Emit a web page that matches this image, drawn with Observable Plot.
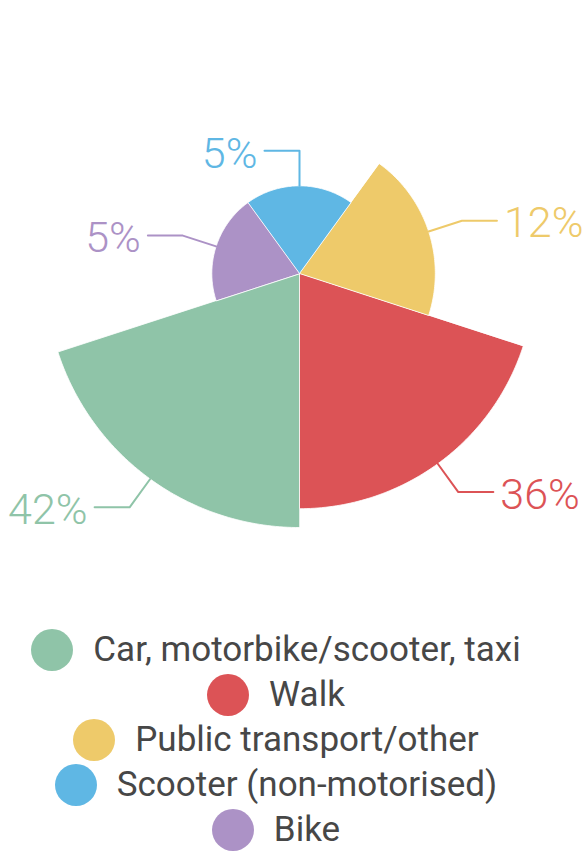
<!DOCTYPE html>
<html>
<head>
<meta charset="utf-8">
<script src="https://cdn.jsdelivr.net/npm/d3@7"></script>
<script src="https://cdn.jsdelivr.net/npm/@observablehq/plot@0.6"></script>
<style>
  html, body { margin: 0; padding: 0; background: #fff; }
  body { width: 584px; font-family: Roboto, "Noto Sans", sans-serif; }
  #legend { display: flex; flex-direction: column; align-items: center; margin-top: 17px; padding-right: 32px; }
  .item { display: flex; align-items: center; height: 45px; }
  .sw { width: 42px; height: 42px; border-radius: 50%; margin-right: 20px; flex: none; }
  .lab { font-size: 35px; color: #474747; white-space: nowrap; line-height: 36px; }
</style>
</head>
<body>
<div id="chart"></div>
<div id="legend"></div>
<script>
// ---- data ----
const categories = ["Car, motorbike/scooter, taxi", "Walk", "Public transport/other", "Scooter (non-motorised)", "Bike"];
const values = [42, 36, 12, 5, 5];
const labels = ["42%", "36%", "12%", "5%", "5%"];
const colors = ["#8fc4a8", "#dc5356", "#eeca6a", "#5fb7e4", "#ac92c6"];

// ---- layout config ----
const W = 584, H = 610;
const cx = 299, cy = 273;          // pie centre in pixels
const k = 39.2;                    // pixels per sqrt(value) unit
const startDeg = 252;              // first slice starts here (clockwise from top), slices go counter-clockwise
const step = 360 / values.length;  // equal angles (polar area)
const lineLen1 = 35 / k, lineLen2 = 35 / k, gap = 7 / k;

const rad = d => d * Math.PI / 180;
const polar = (r, deg) => [r * Math.sin(rad(deg)), r * Math.cos(rad(deg))];

const slices = [];
const leaders = [];
const texts = [];
categories.forEach((c, i) => {
  const r = Math.sqrt(values[i]);
  const a1 = startDeg - i * step, a2 = a1 - step;
  const [x0, y0] = polar(0, 0);
  slices.push({cat: c, x: x0, y: y0});
  const n = 80;
  for (let j = 0; j <= n; j++) {
    const [x, y] = polar(r, a1 + (a2 - a1) * j / n);
    slices.push({cat: c, x, y});
  }
  const mid = (a1 + a2) / 2;
  const [ex, ey] = polar(r, mid);
  const [bx, by] = polar(r + lineLen1, mid);
  const right = Math.sin(rad(mid)) > 0.01 ? 1 : -1;
  const hx = bx + right * lineLen2;
  leaders.push({cat: c, x: ex, y: ey}, {cat: c, x: bx, y: by}, {cat: c, x: hx, y: by});
  texts.push({cat: c, x: hx + right * gap, y: by, label: labels[i], anchor: right > 0 ? "start" : "end"});
});

const chart = Plot.plot({
  width: W, height: H,
  margin: 0,
  x: {domain: [-cx / k, (W - cx) / k], range: [0, W], axis: null},
  y: {domain: [-(H - cy) / k, cy / k], range: [H, 0], axis: null},
  color: {domain: categories, range: colors},
  style: {fontFamily: "Roboto, 'Noto Sans', sans-serif", background: "#fff"},
  marks: [
    Plot.line(slices, {x: "x", y: "y", z: "cat", fill: "cat", stroke: "#fff", strokeWidth: 0.8, curve: "linear-closed"}),
    Plot.line(leaders, {x: "x", y: "y", z: "cat", stroke: "cat", strokeWidth: 2}),
    Plot.text(texts.filter(d => d.anchor === "start"), {x: "x", y: "y", text: "label", fill: "cat", textAnchor: "start", fontSize: 43, fontWeight: 300, dy: 3}),
    Plot.text(texts.filter(d => d.anchor === "end"), {x: "x", y: "y", text: "label", fill: "cat", textAnchor: "end", fontSize: 43, fontWeight: 300, dy: 3})
  ]
});
document.getElementById("chart").appendChild(chart);

const legend = document.getElementById("legend");
categories.forEach((c, i) => {
  const item = document.createElement("div");
  item.className = "item";
  const sw = document.createElement("span");
  sw.className = "sw";
  sw.style.background = colors[i];
  const lab = document.createElement("span");
  lab.className = "lab";
  lab.textContent = c;
  item.appendChild(sw); item.appendChild(lab);
  legend.appendChild(item);
});
</script>
</body>
</html>
